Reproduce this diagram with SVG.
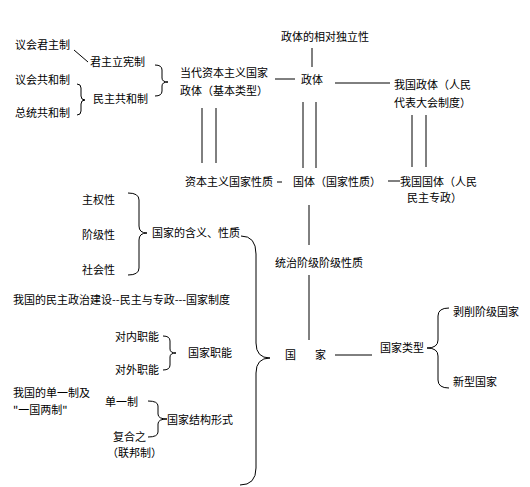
<svg xmlns="http://www.w3.org/2000/svg" width="530" height="487" viewBox="0 0 530 487">
<style>
text{font-family:"Noto Sans CJK SC","Noto Sans CJK TC",sans-serif;font-size:11px;fill:#000}
.c line,.c path{stroke:#000;stroke-width:1;fill:none}
</style>
<rect width="530" height="487" fill="#fff"/>
<g class="c" id="connectors">
<line x1="74" y1="50" x2="88" y2="62"/>
<path d="M77,84 Q81,84 81,88 L81,96 Q81,100 85,100 Q81,100 81,104 L81,111 Q81,115 77,115"/>
<path d="M155,65 Q162,65 162,70 L162,78 Q162,82 168,82 Q162,82 162,86 L162,91 Q162,96 155,96"/>
<line x1="275" y1="79" x2="295" y2="79"/>
<line x1="312" y1="48" x2="312" y2="67"/>
<line x1="335" y1="83" x2="390" y2="83"/>
<line x1="202" y1="108" x2="202" y2="163"/>
<line x1="216" y1="108" x2="216" y2="163"/>
<line x1="303" y1="102" x2="303" y2="168"/>
<line x1="316" y1="102" x2="316" y2="168"/>
<line x1="412" y1="115" x2="412" y2="167"/>
<line x1="426" y1="115" x2="426" y2="167"/>
<line x1="277" y1="182" x2="282" y2="182"/>
<line x1="388" y1="181" x2="400" y2="181"/>
<line x1="309" y1="205" x2="309" y2="245"/>
<line x1="309" y1="275" x2="309" y2="340"/>
<line x1="335" y1="355" x2="372" y2="355"/>
<path d="M449,308 Q438,308 438,316 L438,340 Q438,348 427,348 Q438,348 438,356 L438,380 Q438,388 449,388"/>
<path d="M128,193 Q139,193 139,200 L139,226 Q139,233 147,233 Q139,233 139,240 L139,268 Q139,275 128,275"/>
<path d="M163,336 Q170,336 170,341 L170,349 Q170,353 176,353 Q170,353 170,357 L170,365 Q170,370 163,370"/>
<path d="M148,401 Q158,401 158,406 L158,414 Q158,419 167,419 Q158,419 158,424 L158,432 Q158,437 148,437"/>
<path d="M241,236 Q256,236 256,254 L256,343 Q256,358 270,358 Q256,358 256,373 L256,468 Q256,485 240,485"/>
</g>
<g id="n1"><text x="15" y="49">议会君主制</text></g>
<g id="n2"><text x="90" y="66">君主立宪制</text></g>
<g id="n3"><text x="15" y="84">议会共和制</text></g>
<g id="n4"><text x="93" y="103">民主共和制</text></g>
<g id="n5"><text x="15" y="117">总统共和制</text></g>
<g id="n6"><text x="180" y="77">当代资本主义国家</text><text x="180" y="95">政体（基本类型）</text></g>
<g id="n7"><text x="281" y="41">政体的相对独立性</text></g>
<g id="n8"><text x="301" y="84">政体</text></g>
<g id="n9"><text x="394" y="89">我国政体（人民</text><text x="394" y="107">代表大会制度）</text></g>
<g id="n10"><text x="185" y="186">资本主义国家性质</text></g>
<g id="n11"><text x="293" y="186">国体（国家性质）</text></g>
<g id="n12"><text x="400" y="186">我国国体（人民</text><text x="407" y="202">民主专政）</text></g>
<g id="n13"><text x="275" y="267">统治阶级阶级性质</text></g>
<g id="n14"><text x="285" y="359">国</text><text x="315" y="359">家</text></g>
<g id="n15"><text x="380" y="352">国家类型</text></g>
<g id="n16"><text x="453" y="316">剥削阶级国家</text></g>
<g id="n17"><text x="453" y="386">新型国家</text></g>
<g id="n18"><text x="82" y="204">主权性</text></g>
<g id="n19"><text x="82" y="239">阶级性</text></g>
<g id="n20"><text x="82" y="274">社会性</text></g>
<g id="n21"><text x="152" y="237">国家的含义、性质</text></g>
<g id="n22"><text x="13" y="304">我国的民主政治建设--民主与专政---国家制度</text></g>
<g id="n23"><text x="115" y="341">对内职能</text></g>
<g id="n24"><text x="115" y="374">对外职能</text></g>
<g id="n25"><text x="188" y="357">国家职能</text></g>
<g id="n26"><text x="13" y="397">我国的单一制及</text><text x="13" y="414">"一国两制"</text></g>
<g id="n27"><text x="105" y="406">单一制</text></g>
<g id="n28"><text x="113" y="441">复合之</text><text x="107" y="457">（联邦制）</text></g>
<g id="n29"><text x="167" y="424">国家结构形式</text></g>
</svg>
